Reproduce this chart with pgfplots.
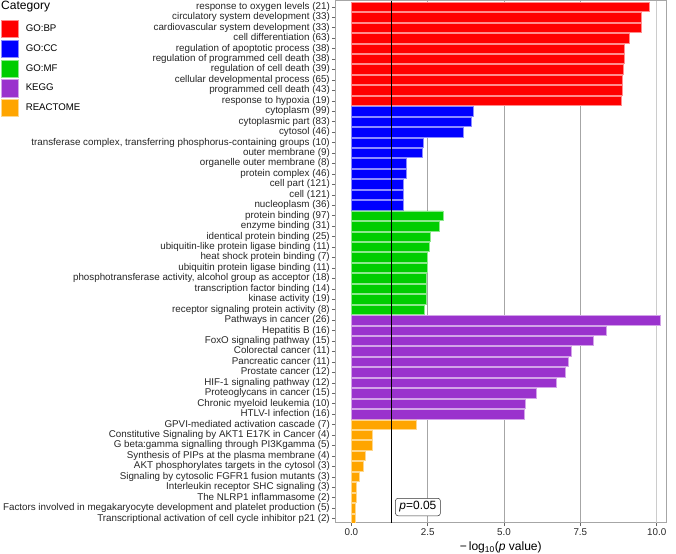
\documentclass[border=0pt]{standalone}
\usepackage{pgfplots}
\pgfplotsset{compat=1.18}
\usepackage{fontspec}
\setmainfont{Liberation Sans}
\definecolor{cBP}{HTML}{FF0000}
\definecolor{cCC}{HTML}{0000FF}
\definecolor{cMF}{HTML}{00CD00}
\definecolor{cKEGG}{HTML}{9A32CD}
\definecolor{cRE}{HTML}{FFA500}
\pgfplotsset{sqlegend/.style={legend image code/.code={\fill[##1] (0bp,-8.65bp) rectangle (17.3bp,8.65bp);}}}
\begin{document}
\begin{tikzpicture}
\begin{axis}[
  at={(0,0)}, anchor=south west,
  scale only axis, width=330.5bp, height=522.2bp,
  xmin=-0.52, xmax=10.305, ymin=0.4, ymax=50.4, y dir=reverse,
  xbar, bar width=0.9, bar shift=0pt,
  xtick={0,2.5,5,7.5,10}, xticklabels={0.0,2.5,5.0,7.5,10.0},
  xtick pos=bottom, ytick pos=left,
  ytick={1,...,50},
  yticklabels={
    response to oxygen levels (21),
    circulatory system development (33),
    cardiovascular system development (33),
    cell differentiation (63),
    regulation of apoptotic process (38),
    regulation of programmed cell death (38),
    regulation of cell death (39),
    cellular developmental process (65),
    programmed cell death (43),
    response to hypoxia (19),
    cytoplasm (99),
    cytoplasmic part (83),
    cytosol (46),
    {transferase complex, transferring phosphorus-containing groups (10)},
    outer membrane (9),
    organelle outer membrane (8),
    protein complex (46),
    cell part (121),
    cell (121),
    nucleoplasm (36),
    protein binding (97),
    enzyme binding (31),
    identical protein binding (25),
    ubiquitin-like protein ligase binding (11),
    heat shock protein binding (7),
    ubiquitin protein ligase binding (11),
    {phosphotransferase activity, alcohol group as acceptor (18)},
    transcription factor binding (14),
    kinase activity (19),
    receptor signaling protein activity (8),
    Pathways in cancer (26),
    Hepatitis B (16),
    FoxO signaling pathway (15),
    Colorectal cancer (11),
    Pancreatic cancer (11),
    Prostate cancer (12),
    HIF-1 signaling pathway (12),
    Proteoglycans in cancer (15),
    Chronic myeloid leukemia (10),
    HTLV-I infection (16),
    GPVI-mediated activation cascade (7),
    Constitutive Signaling by AKT1 E17K in Cancer (4),
    G beta:gamma signalling through PI3Kgamma (5),
    Synthesis of PIPs at the plasma membrane (4),
    AKT phosphorylates targets in the cytosol (3),
    Signaling by cytosolic FGFR1 fusion mutants (3),
    Interleukin receptor SHC signaling (3),
    The NLRP1 inflammasome (2),
    Factors involved in megakaryocyte development and platelet production (5),
    Transcriptional activation of cell cycle inhibitor p21 (2)
  },
  tick align=outside, major tick length=3.5bp,
  tick style={black!60, line width=0.5bp},
  axis line style={black!35, line width=0.6bp},
  ticklabel style={font=\fontsize{9.85}{11}\selectfont, text=black!85},
  yticklabel style={inner sep=2bp},
  xticklabel style={inner sep=2bp},
  xlabel={−\,log\textsubscript{10}(\textit{p} value)},
  xlabel style={font=\fontsize{12.1}{14}\selectfont, text=black, at={(axis description cs:0.5,-0.0475)}, anchor=center},
  legend style={at={(-1.0121,0.9627)}, anchor=north west, draw=none, fill=none,
    inner sep=0pt, outer sep=0pt, row sep=2bp, font=\fontsize{9.7}{11}\selectfont,
    nodes={inner sep=0pt}, /tikz/every odd column/.append style={column sep=7bp}},
  legend cell align=left,
]
% grid lines
\addplot[sharp plot, forget plot, black!35, line width=0.6bp] coordinates {(2.5,0.4) (2.5,50.4)};
\addplot[sharp plot, forget plot, black!35, line width=0.6bp] coordinates {(5,0.4) (5,50.4)};
\addplot[sharp plot, forget plot, black!35, line width=0.6bp] coordinates {(7.5,0.4) (7.5,50.4)};
\addplot[sharp plot, forget plot, black!20, line width=0.6bp] coordinates {(10,0.4) (10,50.4)};
% bars
\addplot[fill=cBP, draw=cBP!45!white, line width=0.5bp, sqlegend] coordinates {
 (9.76,1) (9.51,2) (9.51,3) (9.10,4) (8.94,5) (8.94,6) (8.90,7) (8.86,8) (8.86,9) (8.83,10)};
\addlegendentry{GO:BP}
\addplot[fill=cCC, draw=cCC!45!white, line width=0.5bp, sqlegend] coordinates {
 (3.99,11) (3.92,12) (3.65,13) (2.35,14) (2.32,15) (1.81,16) (1.79,17) (1.70,18) (1.69,19) (1.69,20)};
\addlegendentry{GO:CC}
\addplot[fill=cMF, draw=cMF!45!white, line width=0.5bp, sqlegend] coordinates {
 (3.00,21) (2.88,22) (2.59,23) (2.56,24) (2.50,25) (2.47,26) (2.46,27) (2.45,28) (2.45,29) (2.39,30)};
\addlegendentry{GO:MF}
\addplot[fill=cKEGG, draw=cKEGG!45!white, line width=0.5bp, sqlegend] coordinates {
 (10.11,31) (8.34,32) (7.92,33) (7.21,34) (7.10,35) (7.02,36) (6.70,37) (6.05,38) (5.70,39) (5.67,40)};
\addlegendentry{KEGG}
\addplot[fill=cRE, draw=cRE!45!white, line width=0.5bp, sqlegend] coordinates {
 (2.14,41) (0.69,42) (0.67,43) (0.44,44) (0.39,45) (0.25,46) (0.17,47) (0.15,48) (0.13,49) (0.13,50)};
\addlegendentry{REACTOME}
% p = 0.05 line
\addplot[sharp plot, forget plot, black, line width=0.8bp] coordinates {(1.301,0.4) (1.301,50.4)};
\node[draw=black!80, rounded corners=2.5bp, fill=white, inner xsep=4bp, inner ysep=3.3bp,
  font=\fontsize{12}{14}\selectfont, line width=0.5bp] at (axis cs:2.18,48.9) {\textit{p}=0.05};
\end{axis}
\node[anchor=west, inner sep=0pt, font=\fontsize{12.1}{14}\selectfont] at (-334.5bp,515.7bp) {Category};
\pgfresetboundingbox
\path (-335.5bp,-31.3bp) rectangle (340.5bp,522.7bp);
\end{tikzpicture}
\end{document}
